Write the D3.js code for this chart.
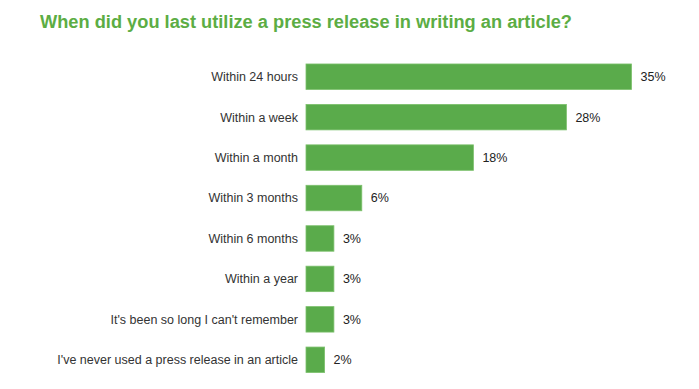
<!DOCTYPE html>
<html>
<head>
<meta charset="utf-8">
<script src="https://cdn.jsdelivr.net/npm/d3@7"></script>
<style>
  body { margin: 0; background: #fff; }
  text { font-family: "Liberation Sans", Arial, sans-serif; }
</style>
</head>
<body>
<div id="chart"></div>
<script>
// data
var categories = [
  "Within 24 hours",
  "Within a week",
  "Within a month",
  "Within 3 months",
  "Within 6 months",
  "Within a year",
  "It's been so long I can't remember",
  "I've never used a press release in an article"
];
var values = [35, 28, 18, 6, 3, 3, 3, 2];
var title = "When did you last utilize a press release in writing an article?";

var width = 699, height = 389;
var barLeft = 306;

var svg = d3.select("#chart")
  .append("svg")
  .attr("width", width)
  .attr("height", height);

// title
svg.append("text")
  .attr("x", 40)
  .attr("y", 28)
  .attr("fill", "#5cad44")
  .style("font-weight", "bold")
  .style("font-size", "18px")
  .attr("textLength", 532)
  .attr("lengthAdjust", "spacingAndGlyphs")
  .text(title);

// scales
var x = d3.scaleLinear()
  .domain([0, 35])
  .range([0, 325.5]);

var y = d3.scaleBand()
  .domain(categories)
  .range([56.5, 380])
  .paddingInner(0.37)
  .paddingOuter(0.185);

var rows = svg.append("g")
  .selectAll("g")
  .data(categories)
  .enter()
  .append("g")
  .attr("transform", d => "translate(0," + y(d) + ")");

rows.append("rect")
  .attr("x", barLeft)
  .attr("width", (d, i) => x(values[i]))
  .attr("height", y.bandwidth())
  .attr("fill", "#5aab4b")
  .attr("stroke", "#7cc06c")
  .attr("stroke-width", 0.8);

// category labels
rows.append("text")
  .attr("x", barLeft - 8)
  .attr("y", y.bandwidth() / 2)
  .attr("dy", "0.35em")
  .attr("text-anchor", "end")
  .attr("fill", "#333")
  .style("font-size", "12.5px")
  .text(d => d);

// value labels
rows.append("text")
  .attr("x", (d, i) => barLeft + x(values[i]) + 9)
  .attr("y", y.bandwidth() / 2)
  .attr("dy", "0.35em")
  .attr("fill", "#222")
  .style("font-size", "12.5px")
  .text((d, i) => values[i] + "%");
</script>
</body>
</html>
